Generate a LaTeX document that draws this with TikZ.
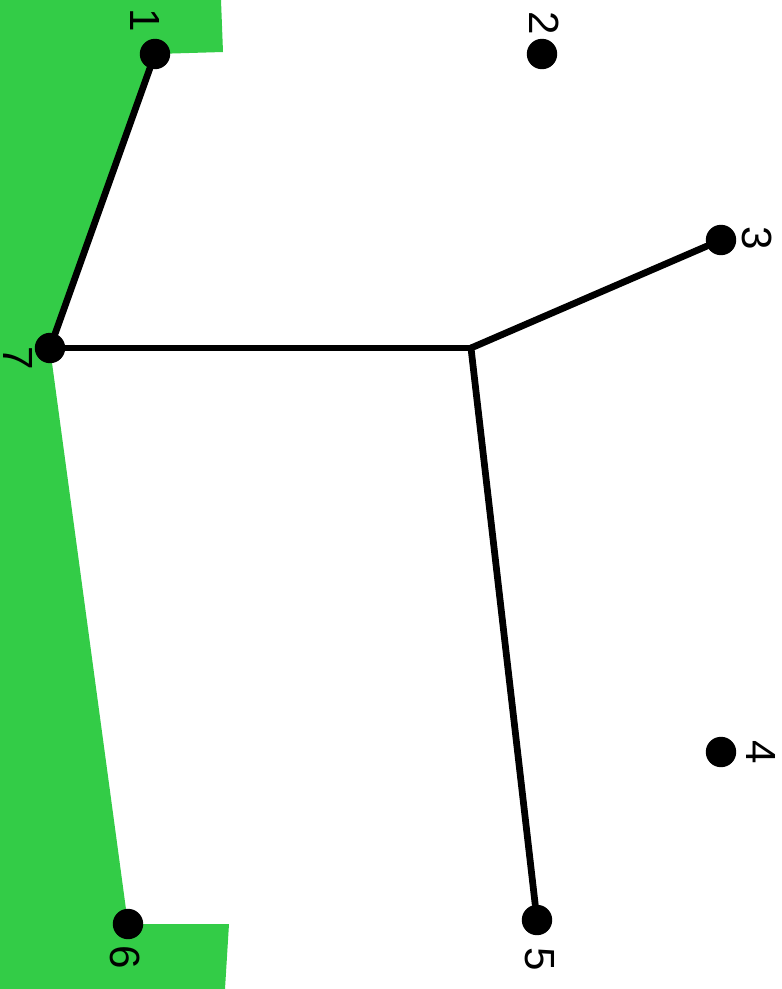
\documentclass[tikz,border=0pt]{standalone}
\usepackage{fontspec}
\setmainfont{Liberation Sans}
\definecolor{regiongreen}{RGB}{51,204,71}
\tikzset{
  dot/.style={circle,fill=black,inner sep=0pt,minimum size=0.76cm},
  num/.style={rotate=-90,inner sep=0pt,font=\fontsize{30}{36}\selectfont},
  edge/.style={line width=4.8pt}
}
\begin{document}
\begin{tikzpicture}[x=0.025cm,y=-0.025cm,line cap=round,line join=round]
\useasboundingbox (0,0) rectangle (782,989);

% --- green region on the left ---
\fill[regiongreen] (0,0) -- (221,0) -- (223,52) -- (155,54) -- (50,348)
  -- (128,924) -- (229,924) -- (225,989) -- (0,989) -- cycle;

% --- points ---
\node[dot] (v1) at (155,54) {};
\node[dot] (v2) at (542,54) {};
\node[dot] (v3) at (721,240) {};
\node[dot] (v4) at (721,752) {};
\node[dot] (v5) at (537,920) {};
\node[dot] (v6) at (128,924) {};
\node[dot] (v7) at (50,348) {};
\coordinate (s) at (471,348);

% --- tree ---
\draw[edge] (v1) -- (v7);
\draw[edge] (v7) -- (s);
\draw[edge] (s) -- (v3);
\draw[edge] (s) -- (v5);

% labels of the points
\node[num] (l1) at (145,20) {1};
\node[num] (l2) at (544,23) {2};
\node[num] (l3) at (757,238) {3};
\node[num] (l4) at (761,752) {4};
\node[num] (l5) at (540,959) {5};
\node[num] (l6) at (125,957) {6};
\node[num] (l7) at (18,358) {7};
\end{tikzpicture}
\end{document}
